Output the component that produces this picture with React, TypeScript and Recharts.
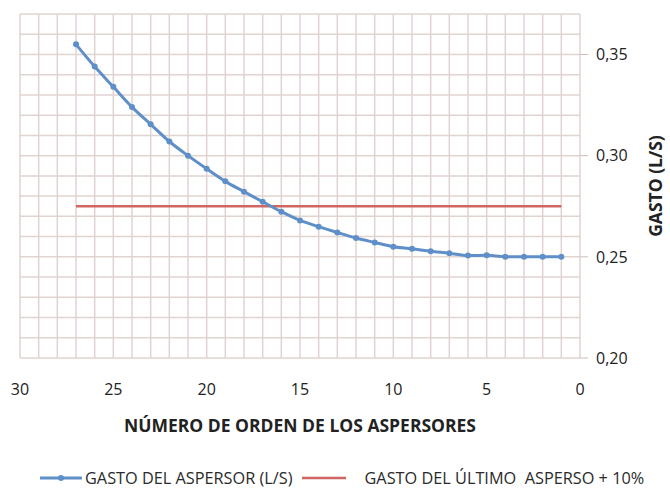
import { LineChart, Line, XAxis, YAxis, ReferenceLine, Legend } from 'recharts';

const sprinklerNo = [27, 26, 25, 24, 23, 22, 21, 20, 19, 18, 17, 16, 15, 14, 13, 12, 11, 10, 9, 8, 7, 6, 5, 4, 3, 2, 1];
const sprinklerFlow = [
  0.355, 0.344, 0.334, 0.324, 0.3155, 0.307, 0.3, 0.2935, 0.2873, 0.2822, 0.2772, 0.2723, 0.268, 0.2649,
  0.262, 0.2593, 0.2571, 0.255, 0.254, 0.2527, 0.2518, 0.2506, 0.2508, 0.25, 0.25, 0.25, 0.25,
];
const lastPlus10 = 0.275;

const xTicks = [30, 25, 20, 15, 10, 5, 0];
const yTicks = [0.2, 0.25, 0.3, 0.35];
const gridX = Array.from({ length: 31 }, (_, i) => i);
const gridY = Array.from({ length: 18 }, (_, i) => +(0.2 + i * 0.01).toFixed(2));

const data = sprinklerNo.map((n, i) => ({ n, gasto: sprinklerFlow[i], limite: lastPlus10 }));

const BLUE = '#5f8fc8';
const RED = '#cf6661';
const GRID = '#e0d4d1';
const FONT = '"Open Sans", sans-serif';

function LegendContent() {
  return (
    <div
      style={{
        display: 'flex',
        alignItems: 'center',
        height: 41,
        boxSizing: 'border-box',
        paddingTop: 19,
        paddingLeft: 20,
        fontFamily: FONT,
        fontSize: 16.3,
        lineHeight: '16px',
        color: '#2a2a2a',
        whiteSpace: 'nowrap',
      }}
    >
      <svg width={42} height={10}>
        <line x1={0} y1={5} x2={42} y2={5} stroke={BLUE} strokeWidth={3} />
        <circle cx={21} cy={5} r={3} fill={BLUE} />
      </svg>
      <span style={{ marginLeft: 3 }}>GASTO DEL ASPERSOR (L/S)</span>
      <svg width={46} height={10} style={{ marginLeft: 9 }}>
        <line x1={0} y1={5} x2={44} y2={5} stroke={RED} strokeWidth={2.5} />
      </svg>
      <span style={{ marginLeft: 17, whiteSpace: 'pre' }}>GASTO DEL ÚLTIMO  ASPERSO + 10%</span>
    </div>
  );
}

export default function App() {
  return (
    <div style={{ position: 'absolute', left: 0, top: 0 }}>
      <LineChart width={670} height={489} data={data} margin={{ top: 14, right: 20, left: 20, bottom: 0 }}>
        <XAxis
          dataKey="n"
          type="number"
          domain={[0, 30]}
          ticks={xTicks}
          reversed
          axisLine={false}
          tickLine={false}
          tickMargin={20}
          height={90}
          tick={{ fill: '#222', fontSize: 16, fontFamily: FONT }}
          label={{
            value: 'NÚMERO DE ORDEN DE LOS ASPERSORES',
            position: 'insideBottom',
            offset: 16,
            style: { fill: '#222', fontSize: 17.5, fontWeight: 700, fontFamily: FONT },
          }}
        />
        <YAxis
          orientation="right"
          domain={[0.2, 0.37]}
          ticks={yTicks}
          width={70}
          axisLine={false}
          tickLine={{ stroke: '#cbbcb9' }}
          tickSize={8}
          tickMargin={8}
          tickFormatter={(v: number) => v.toFixed(2).replace('.', ',')}
          tick={{ fill: '#222', fontSize: 16, fontFamily: FONT }}
          label={{
            content: ({ viewBox }: any) => {
              const x = viewBox.x + 75;
              const y = viewBox.y + viewBox.height / 2;
              return (
                <text
                  x={x}
                  y={y}
                  transform={`rotate(-90 ${x} ${y})`}
                  textAnchor="middle"
                  dominantBaseline="central"
                  style={{ fill: '#222', fontSize: 17.5, fontWeight: 700, fontFamily: FONT }}
                >
                  GASTO (L/S)
                </text>
              );
            },
          }}
        />
        {gridX.map((v) => (
          <ReferenceLine key={`gx${v}`} x={v} stroke={GRID} strokeWidth={1.5} />
        ))}
        {gridY.map((v) => (
          <ReferenceLine key={`gy${v}`} y={v} stroke={GRID} strokeWidth={1.5} />
        ))}
        <Legend verticalAlign="bottom" height={41} content={<LegendContent />} />
        <Line dataKey="limite" stroke={RED} strokeWidth={2.5} dot={false} isAnimationActive={false} />
        <Line
          type="monotone"
          dataKey="gasto"
          stroke={BLUE}
          strokeWidth={3}
          dot={{ r: 3, fill: BLUE, stroke: BLUE, strokeWidth: 0 }}
          isAnimationActive={false}
        />
      </LineChart>
    </div>
  );
}
